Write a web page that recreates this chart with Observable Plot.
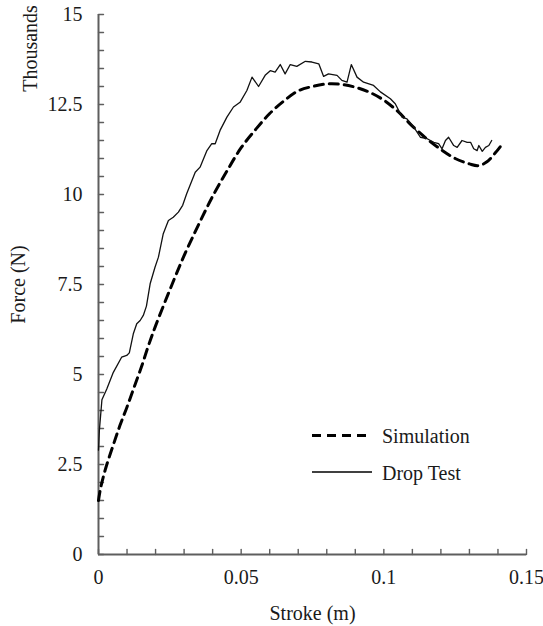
<!DOCTYPE html>
<html><head><meta charset="utf-8">
<script src="https://cdn.jsdelivr.net/npm/d3@7"></script>
<script src="https://cdn.jsdelivr.net/npm/@observablehq/plot@0.6"></script>
<style>body{margin:0;background:#fff}#chart{width:543px;height:626px}</style>
</head><body><div id="chart"></div>
<script>
// Simulation (dashed), stroke in m, force in thousands of N
const simStroke = [0, 0.0008, 0.0025, 0.005, 0.0075, 0.010, 0.0125, 0.015, 0.0175, 0.020, 0.025, 0.030, 0.035, 0.040, 0.045, 0.050, 0.055, 0.060, 0.065, 0.070, 0.075, 0.080, 0.085, 0.090, 0.095, 0.100, 0.105, 0.110, 0.115, 0.120, 0.125, 0.130, 0.133, 0.136, 0.139, 0.1415];
const simForce  = [1.5, 1.87, 2.39, 3.0, 3.58, 4.1, 4.65, 5.2, 5.8, 6.35, 7.35, 8.3, 9.15, 9.95, 10.65, 11.3, 11.8, 12.25, 12.6, 12.88, 13.0, 13.07, 13.06, 12.98, 12.84, 12.62, 12.3, 11.9, 11.55, 11.25, 11.0, 10.85, 10.8, 10.9, 11.15, 11.4];

// Drop test (solid)
const dropStroke = [0, 0.0003, 0.0012, 0.0029, 0.0052, 0.0081, 0.0099, 0.0108, 0.0122, 0.0134, 0.0146, 0.0157, 0.0168, 0.0181, 0.0198, 0.0210, 0.0227, 0.0245, 0.0262, 0.0280, 0.0295, 0.0309, 0.0339, 0.0356, 0.0380, 0.0397, 0.0409, 0.0426, 0.0450, 0.0473, 0.0496, 0.0520, 0.0538, 0.0561, 0.0584, 0.0602, 0.0619, 0.0637, 0.0654, 0.0672, 0.0695, 0.0725, 0.0748, 0.0772, 0.0789, 0.0806, 0.0836, 0.0853, 0.0871, 0.0886, 0.0906, 0.0929, 0.0964, 0.0988, 0.1023, 0.1040, 0.1064, 0.1081, 0.1105, 0.1128, 0.1152, 0.1175, 0.1192, 0.1204, 0.1216, 0.1227, 0.1245, 0.1257, 0.1274, 0.1292, 0.1304, 0.1315, 0.1327, 0.1333, 0.1345, 0.1356, 0.1368, 0.1378];
const dropForce  = [2.9, 3.44, 4.3, 4.6, 5.06, 5.48, 5.53, 5.6, 6.13, 6.41, 6.5, 6.64, 6.9, 7.52, 7.98, 8.26, 8.91, 9.28, 9.37, 9.51, 9.7, 10.02, 10.62, 10.76, 11.22, 11.41, 11.41, 11.78, 12.15, 12.43, 12.56, 12.89, 13.26, 13.0, 13.31, 13.44, 13.40, 13.61, 13.35, 13.61, 13.56, 13.70, 13.68, 13.63, 13.28, 13.35, 13.31, 13.17, 13.12, 13.61, 13.26, 13.12, 13.03, 12.85, 12.66, 12.52, 12.15, 12.10, 11.87, 11.59, 11.55, 11.45, 11.41, 11.27, 11.50, 11.59, 11.36, 11.31, 11.50, 11.45, 11.45, 11.27, 11.22, 11.36, 11.20, 11.31, 11.36, 11.50];

const xTickLabels = [0, 0.05, 0.1, 0.15];
const yTickLabels = [0, 2.5, 5, 7.5, 10, 12.5, 15];
const xMinorTicks = d3.range(0, 16).map(i => i / 100);
const yMinorTicks = d3.range(0, 31).map(i => i / 2);
const seriesNames = ["Simulation", "Drop Test"];

const sim = simStroke.map((x, i) => ({x, y: simForce[i]}));
const drop = dropStroke.map((x, i) => ({x, y: dropForce[i]}));

const font = "'Liberation Serif', 'Times New Roman', serif";
const axisColor = "#5e5e5e";
const textColor = "#1a1a1a";
const tickShape = {draw(context, l) { context.moveTo(0, 0); context.lineTo(0, -l); }};

const plot = Plot.plot({
  width: 543, height: 626,
  marginLeft: 98, marginRight: 17, marginTop: 14, marginBottom: 72,
  style: {fontFamily: font, fontSize: "20px", color: textColor, background: "#fff"},
  x: {domain: [0, 0.15]},
  y: {domain: [0, 15]},
  marks: [
    Plot.axisX(xTickLabels, {tickSize: 0, tickPadding: 15, tickFormat: d => String(d), label: "Stroke (m)", labelAnchor: "center", labelArrow: "none", labelOffset: 65, fill: textColor}),
    Plot.axisY(yTickLabels, {tickSize: 0, tickPadding: 16, tickFormat: d => String(d), label: "Force (N)", labelAnchor: "center", labelArrow: "none", labelOffset: 88, fill: textColor}),
    Plot.text(["Thousands"], {frameAnchor: "top-left", rotate: -90, dx: -68, dy: 34, textAnchor: "middle", lineAnchor: "middle", fill: textColor}),
    Plot.vector(xMinorTicks, {x: d => d, y: () => 0, rotate: 0, length: 5, anchor: "start", shape: tickShape, stroke: axisColor, strokeWidth: 1.4}),
    Plot.vector(yMinorTicks, {x: () => 0, y: d => d, rotate: 90, length: 5, anchor: "start", shape: tickShape, stroke: axisColor, strokeWidth: 1.4}),
    Plot.ruleX([0], {stroke: axisColor, strokeWidth: 2}),
    Plot.ruleY([0], {stroke: axisColor, strokeWidth: 2}),
    Plot.line(sim, {x: "x", y: "y", stroke: "#000", strokeWidth: 3, strokeDasharray: "9,6", curve: "catmull-rom"}),
    Plot.line(drop, {x: "x", y: "y", stroke: "#111", strokeWidth: 1.3})
  ]
});
document.getElementById("chart").appendChild(plot);

// Legend inside the plot area
const svg = d3.select(plot);
const lg = svg.append("g").attr("font-family", font).attr("font-size", 20).attr("fill", textColor).attr("text-anchor", "start");
const legendItems = [
  {name: seriesNames[0], dash: "9,6", width: 3, y: 435.5, base: 443},
  {name: seriesNames[1], dash: null, width: 1.3, y: 472, base: 479.5}
];
legendItems.forEach(d => {
  lg.append("line").attr("x1", 312).attr("x2", 372).attr("y1", d.y).attr("y2", d.y)
    .attr("stroke", "#000").attr("stroke-width", d.width).attr("stroke-dasharray", d.dash);
  lg.append("text").attr("x", 382).attr("y", d.base).attr("text-anchor", "start").text(d.name);
});
</script>
</body></html>
